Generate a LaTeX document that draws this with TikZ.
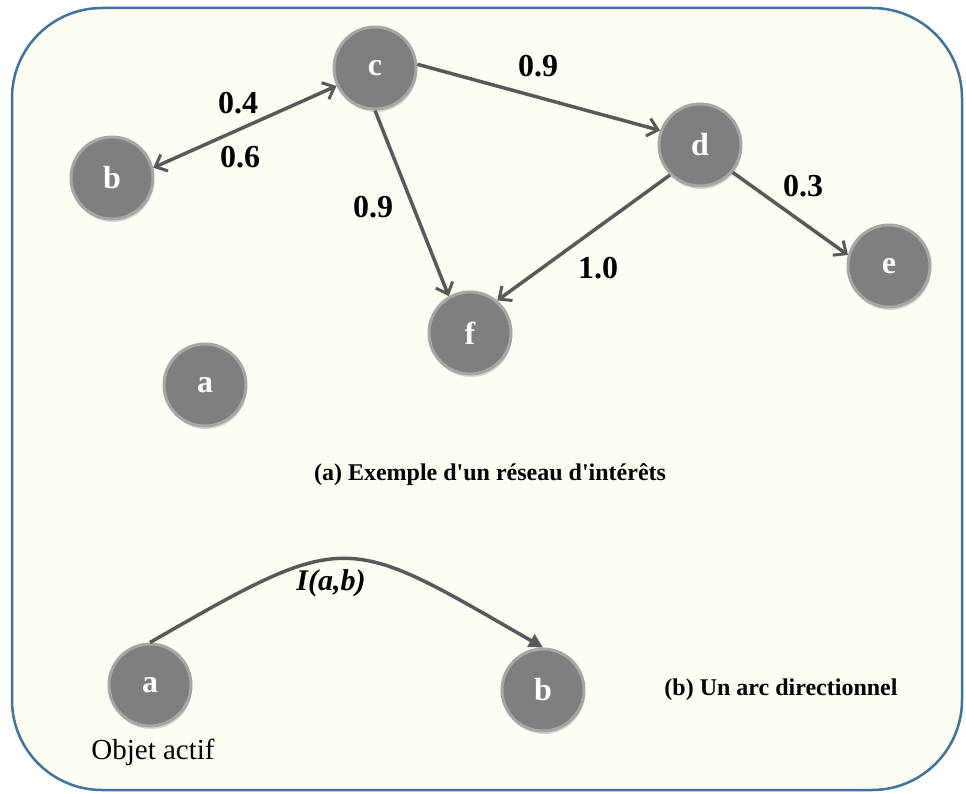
\documentclass[tikz,border=0pt]{standalone}
\usepackage{fontspec}
\setmainfont{Liberation Serif}
\usetikzlibrary{arrows.meta,shadows}
\definecolor{frameblue}{HTML}{41719C}
\definecolor{cream}{HTML}{FDFDF4}
\definecolor{nodegray}{HTML}{7F7F7F}
\definecolor{rimgray}{HTML}{A6A6A6}
\definecolor{edgegray}{HTML}{595959}
\begin{document}
\begin{tikzpicture}[x=1pt,y=-1pt,
  vertex/.style={circle,minimum size=82pt,inner sep=0pt,fill=nodegray,draw=rimgray,line width=3pt,
    text=white,font=\fontsize{32}{32}\selectfont\bfseries,
    drop shadow={opacity=0.3,shadow xshift=1pt,shadow yshift=-3pt}},
  barb/.tip={Straight Barb[length=10pt,width=18pt,line width=3pt]},
  link/.style={draw=edgegray,line width=3.5pt,-barb},
  wlabel/.style={font=\fontsize{32}{32}\selectfont\bfseries,text=black,inner sep=0pt},
  caption/.style={font=\fontsize{24}{24}\selectfont\bfseries,text=black,inner sep=0pt}]
\useasboundingbox (0,0) rectangle (966,794);
\fill[white] (0,0) rectangle (966,794);
\draw[frameblue,line width=2.5pt,fill=cream,rounded corners=90pt] (12,8) rectangle (962,790);
% nodes
\node[vertex] (c) at (375,68) {c};
\node[vertex] (b) at (112,178) {b};
\node[vertex] (d) at (700,145) {d};
\node[vertex] (e) at (889,266) {e};
\node[vertex] (f) at (470,333) {f};
\node[vertex] (a) at (205,385) {a};
\node[vertex] (a2) at (150,685) {a};
\node[vertex] (b2) at (543,690) {b};
% edges
\draw[link,barb-barb] (b.14) -- (c.205);
\draw[link] (c.5) -- (d.160);
\draw[link] (c.270) -- (f.120);
\draw[link] (d.225) -- (f.50);
\draw[link] (d.-40) -- (e.165);
\draw[draw=edgegray,line width=3.5pt,-{Triangle[length=14pt,width=14pt]}] (a2.north) .. controls (349,528) and (344,533) .. (b2.north);
% labels
\node[wlabel] (l1) at (238,103) {0.4};
\node[wlabel] (l2) at (240,157) {0.6};
\node[wlabel] (l3) at (538,66) {0.9};
\node[wlabel] (l4) at (373,207) {0.9};
\node[wlabel] (l5) at (598,268) {1.0};
\node[wlabel] (l6) at (803,186) {0.3};
\node[wlabel,font=\fontsize{30}{30}\selectfont\bfseries\itshape] (iab) at (331,583) {I(a,b)};
\node[caption] (capa) at (490,475) {(a) Exemple d\textquotesingle un réseau d\textquotesingle intérêts};
\node[caption] (capb) at (781,690) {(b) Un arc directionnel};
\node[inner sep=0pt,font=\fontsize{29}{29}\selectfont] (obj) at (153,752) {Objet actif};
\end{tikzpicture}
\end{document}
